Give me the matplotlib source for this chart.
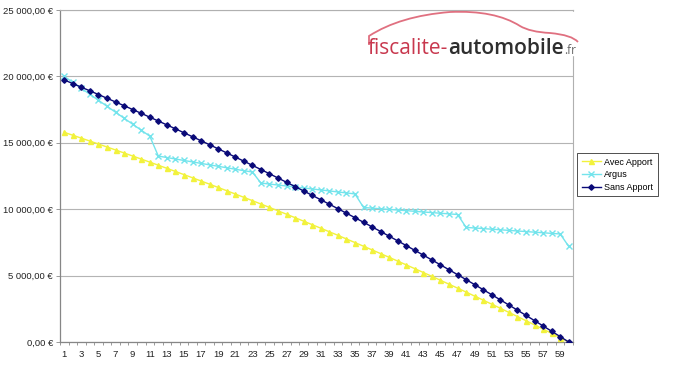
import matplotlib
matplotlib.use("Agg")
import matplotlib.pyplot as plt
from matplotlib.ticker import FuncFormatter, FixedLocator
from matplotlib.path import Path
from matplotlib.patches import PathPatch, Rectangle

plt.rcParams["font.family"] = ["Liberation Sans", "DejaVu Sans"]

months = list(range(1, 61))

avec_apport = [
    15785, 15568, 15349, 15129, 14907, 14684, 14460, 14233, 14005, 13776,
    13545, 13312, 13078, 12842, 12604, 12365, 12124, 11882, 11637, 11391,
    11143, 10894, 10643, 10390, 10135, 9878, 9620, 9360, 9098, 8834,
    8568, 8301, 8032, 7760, 7487, 7212, 6935, 6656, 6375, 6092,
    5807, 5521, 5232, 4941, 4648, 4353, 4056, 3757, 3456, 3152,
    2847, 2539, 2230, 1918, 1604, 1287, 969, 648, 325, 0,
]

argus = [
    20000, 19550, 19100, 18650, 18200, 17750, 17300, 16850, 16400, 15950,
    15500, 14000, 13890, 13780, 13670, 13560, 13450, 13340, 13230, 13120,
    13010, 12900, 12800, 11970, 11895, 11820, 11745, 11670, 11600, 11525,
    11450, 11375, 11300, 11225, 11150, 10130, 10080, 10030, 9985, 9935,
    9890, 9840, 9790, 9745, 9695, 9650, 9600, 8630, 8585, 8540,
    8495, 8450, 8405, 8360, 8315, 8270, 8225, 8180, 8135, 7200,
]

sans_apport = [
    19731, 19459, 19186, 18911, 18634, 18355, 18074, 17792, 17507, 17220,
    16931, 16640, 16348, 16053, 15756, 15456, 15155, 14852, 14547, 14239,
    13929, 13617, 13303, 12987, 12669, 12348, 12025, 11700, 11372, 11043,
    10711, 10376, 10039, 9700, 9359, 9015, 8669, 8320, 7969, 7615,
    7259, 6901, 6540, 6176, 5810, 5441, 5070, 4696, 4320, 3940,
    3559, 3174, 2787, 2397, 2005, 1609, 1211, 810, 407, 0,
]

W, H = 673, 377
fig = plt.figure(figsize=(W / 100, H / 100), dpi=100)
ax = fig.add_axes([60 / W, 1 - 342 / H, (573 - 60) / W, (342 - 10) / H])

ax.plot(months, avec_apport, color="#f2f23c", lw=1.0, marker="^", ms=3.6,
        mec="#f2f23c", mfc="#f2f23c", label="Avec Apport", zorder=3)
ax.plot(months, argus, color="#74e4ec", lw=1.0, marker="x", ms=3.8, mew=1.0,
        label="Argus", zorder=4)
ax.plot(months, sans_apport, color="#0a0a78", lw=1.0, marker="D", ms=2.8,
        label="Sans Apport", zorder=5)

ax.set_xlim(0.5, 60.5)
ax.set_ylim(0, 25000)

ax.set_yticks(range(0, 25001, 5000))
ax.yaxis.set_major_formatter(FuncFormatter(
    lambda v, p: f"{int(v):,}".replace(",", " ") + ",00 €"))
ax.grid(axis="y", color="#b4b4b4", lw=0.8)
ax.set_axisbelow(True)

ax.set_xticks(range(1, 61, 2))
ax.xaxis.set_minor_locator(FixedLocator([i + 0.5 for i in range(0, 61)]))
ax.tick_params(axis="x", which="major", length=0, pad=6, labelsize=6.8,
               colors="#222222")
ax.tick_params(axis="x", which="minor", length=2.5, color="#8a8a8a", width=0.6)
ax.tick_params(axis="y", length=3, color="#8a8a8a", width=0.6, labelsize=6.8,
               labelcolor="#222222", pad=2)

for side in ("top", "right"):
    ax.spines[side].set_color("#b0b0b0")
    ax.spines[side].set_linewidth(0.8)
for side in ("left", "bottom"):
    ax.spines[side].set_color("#868686")
    ax.spines[side].set_linewidth(0.9)

leg = fig.legend(loc="upper left", bbox_to_anchor=(577 / W, 1 - 153 / H),
                 fontsize=6.5, frameon=True, fancybox=False, handlelength=2.2,
                 borderpad=0.5, labelspacing=0.4, handletextpad=0.3,
                 borderaxespad=0)
leg.get_frame().set_edgecolor("#000000")
leg.get_frame().set_linewidth(0.6)

# logo: white backdrop over the right border, car outline and wordmark
fig.patches.append(Rectangle((555 / W, 1 - 55 / H), 30 / W, 43 / H,
                             transform=fig.transFigure, color="white", zorder=1))

def fp(x, y):
    return (x / W, 1 - y / H)

car = Path([fp(369, 45), fp(369, 36),
            fp(400, 16), fp(450, 12),
            fp(495, 10), fp(520, 26),
            fp(530, 32), fp(550, 33),
            fp(572, 35), fp(578, 42)],
           [Path.MOVETO, Path.LINETO] + [Path.CURVE3] * 8)
fig.patches.append(PathPatch(car, transform=fig.transFigure, fill=False,
                             ec="#e07080", lw=1.3, zorder=2))

renderer = fig.canvas.get_renderer()
x0, base = 368, 54
parts = [("fiscalite-", "#c8384e", 15, "normal"),
         ("automobile", "#2e2e2e", 15, "semibold"),
         (".fr", "#666666", 8.5, "normal")]
for txt, col, size, wt in parts:
    t = fig.text(x0 / W, 1 - base / H, txt, color=col, fontsize=size,
                 fontweight=wt, family="Open Sans", va="baseline", ha="left",
                 zorder=3)
    x0 += t.get_window_extent(renderer).width

fig.savefig("out.png", dpi=100)
